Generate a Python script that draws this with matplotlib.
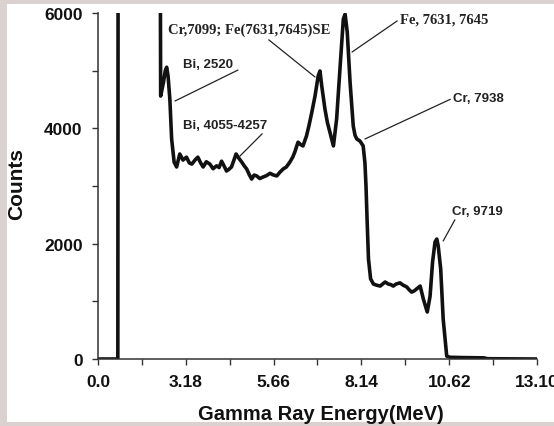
import matplotlib
matplotlib.use("Agg")
import matplotlib.pyplot as plt
from matplotlib.patches import Rectangle

# spectrum (MeV, counts); values above 6000 are off the chart
energy = [0.70, 1.00, 1.26, 1.27, 2.45, 2.47, 2.55, 2.60, 2.64, 2.68, 2.73, 2.78,
          2.85, 2.92, 3.01, 3.10, 3.20, 3.28, 3.35, 3.44, 3.52, 3.60, 3.67, 3.76,
          3.86, 3.95, 4.05, 4.12, 4.19, 4.26, 4.33, 4.40, 4.47, 4.54, 4.60, 4.68,
          4.76, 4.83, 4.90, 4.97, 5.04, 5.11, 5.18, 5.27, 5.36, 5.46, 5.56, 5.66,
          5.75, 5.84, 5.93, 6.02, 6.12, 6.20, 6.26, 6.35, 6.42, 6.49, 6.59, 6.66,
          6.74, 6.83, 6.92, 6.97, 7.02, 7.11, 7.18, 7.25, 7.35, 7.44, 7.54, 7.63,
          7.68, 7.74, 7.82, 7.91, 7.96, 8.01, 8.10, 8.19, 8.24, 8.27, 8.30, 8.34,
          8.40, 8.48, 8.57, 8.67, 8.74, 8.81, 8.90, 8.97, 9.04, 9.12, 9.23, 9.32,
          9.42, 9.49, 9.56, 9.63, 9.70, 9.80, 9.89, 10.00, 10.08, 10.15, 10.22,
          10.27, 10.31, 10.38, 10.45, 10.55, 10.64, 11.00, 11.60, 11.70, 13.10]
counts = [0, 0, 0, 9000, 9000, 4560, 4800, 5000, 5060, 4900, 4500, 3815,
          3415, 3330, 3555, 3450, 3500, 3400, 3380, 3450, 3500, 3400, 3330, 3420,
          3380, 3300, 3350, 3320, 3430, 3350, 3260, 3290, 3330, 3450, 3555, 3480,
          3415, 3350, 3295, 3200, 3120, 3190, 3175, 3130, 3155, 3180, 3220, 3190,
          3175, 3240, 3295, 3330, 3415, 3500, 3590, 3760, 3720, 3695, 3870, 4050,
          4280, 4560, 4910, 4995, 4735, 4335, 4100, 3935, 3695, 4160, 5080, 5895,
          5980, 5670, 4800, 4040, 3880, 3815, 3780, 3695, 3400, 3000, 2430, 1735,
          1390, 1300, 1280, 1265, 1300, 1335, 1300, 1290, 1265, 1300, 1320, 1280,
          1250, 1200, 1160, 1180, 1215, 1265, 1040, 815, 1090, 1680, 2030,
          2080, 1960, 1560, 695, 50, 30, 25, 20, 5, 0]

xtick_pos = [0.70, 3.18, 5.66, 8.14, 10.62, 13.10]
xtick_labels = ["0.0", "3.18", "5.66", "8.14", "10.62", "13.10"]
ytick_pos = [0, 2000, 4000, 6000]

# label, point on curve, text position, relpos of leader line, font family
peaks = [
    ("Bi, 2520", (2.875, 4474), (3.10, 5115), (1.1, 0.0), "sans"),
    ("Bi, 4055-4257", (4.71, 3520), (3.10, 4058), (1.03, 0.4), "sans"),
    ("Cr,7099; Fe(7631,7645)SE", (6.83, 4890), (2.68, 5722), (0.62, -0.3), "serif"),
    ("Fe, 7631, 7645", (7.875, 5323), (9.23, 5896), (0.0, 0.5), "serif"),
    ("Cr, 7938", (8.24, 3815), (10.73, 4526), (0.0, 0.5), "sans"),
    ("Cr, 9719", (10.45, 2046), (10.70, 2566), (0.08, -0.05), "sans"),
]

plt.rcParams["font.family"] = ["Liberation Sans", "DejaVu Sans"]

fig = plt.figure(figsize=(5.54, 4.27), dpi=100, facecolor="#dcd1d1")
fig.patches.append(Rectangle((0.0126, 0.009), 0.99, 0.979, transform=fig.transFigure,
                             facecolor="white", edgecolor="none", zorder=-5))
ax = fig.add_axes([0.1769, 0.1569, 0.7924, 0.8103])
ax.set_facecolor("none")
ax.set_zorder(2)

ax.plot(energy, counts, color="#111111", lw=2.6, solid_joinstyle="round")

ax.set_xlim(0.70, 13.10)
ax.set_ylim(0, 6000)
ax.set_xticks(xtick_pos)
ax.set_xticklabels(xtick_labels)
ax.set_xticks([(a + b) / 2 for a, b in zip(xtick_pos[:-1], xtick_pos[1:])], minor=True)
ax.set_yticks(ytick_pos)
ax.set_yticks([1000, 3000, 5000], minor=True)
ax.tick_params(which="both", direction="out", length=4, width=1, colors="#333333",
               labelcolor="#111111", labelsize=12.5, pad=7)
for lab in ax.get_xticklabels() + ax.get_yticklabels():
    lab.set_fontweight("bold")

for side in ["top", "right"]:
    ax.spines[side].set_visible(False)
for side in ["left", "bottom"]:
    ax.spines[side].set_linewidth(1.1)
    ax.spines[side].set_color("#333333")

ax.set_xlabel("Gamma Ray Energy(MeV)", fontsize=14.5, fontweight="bold", color="#111111")
ax.set_ylabel("Counts", fontsize=15, fontweight="bold", color="#111111")
ax.xaxis.set_label_coords(0.508, -0.13)
ax.yaxis.set_label_coords(-0.163, 0.51)

for label, pt, txt, rel, fam in peaks:
    if fam == "serif":
        fp = dict(family=["Liberation Serif", "DejaVu Serif"], fontsize=10.5, fontweight="bold")
    else:
        fp = dict(fontsize=9.5, fontweight="bold")
    ax.annotate(label, xy=pt, xytext=txt, ha="left", va="center", color="#222222",
                arrowprops=dict(arrowstyle="-", color="#222222", lw=0.9, relpos=rel,
                                shrinkA=0, shrinkB=0),
                annotation_clip=False, **fp)

fig.savefig("out.png", dpi=100, facecolor=fig.get_facecolor())
